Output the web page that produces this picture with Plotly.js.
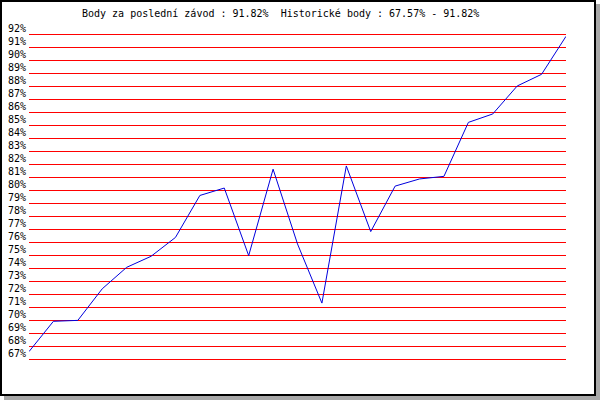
<!DOCTYPE html>
<html>
<head>
<meta charset="utf-8">
<script src="https://cdn.plot.ly/plotly-3.0.1.min.js"></script>
<style>
  html, body { margin: 0; padding: 0; background: #ffffff; }
  #wrap { position: relative; width: 600px; height: 400px; overflow: hidden; background: #ffffff; }
  #shadowR { position: absolute; left: 596px; top: 4px; width: 4px; height: 396px; background: #a8a8a8; }
  #shadowB { position: absolute; left: 4px; top: 396px; width: 596px; height: 4px; background: #a8a8a8; }
  #frame { position: absolute; left: 0; top: 0; width: 592px; height: 392px; border: 2px solid #000000; background: #ffffff; }
  #chart { position: absolute; left: 0; top: 0; width: 600px; height: 400px; }
</style>
</head>
<body>
<div id="wrap">
  <div id="shadowR"></div>
  <div id="shadowB"></div>
  <div id="frame"></div>
  <div id="chart"></div>
</div>
<script>
// Race index (one point per race)
const races = [0,1,2,3,4,5,6,7,8,9,10,11,12,13,14,15,16,17,18,19,20,21,22];
// Points in % per race
const points = [67.57, 69.9, 69.97, 72.4, 74.05, 74.9, 76.35, 79.58, 80.15, 74.95,
                81.6, 75.85, 71.3, 81.85, 76.8, 80.3, 80.85, 81.05, 85.2, 85.85,
                88.0, 88.9, 91.82];
const yMin = 67, yMax = 92;
const titleText = "Body za poslední závod : 91.82%\u00a0\u00a0Historické body : 67.57% - 91.82%";

const mono = "DejaVu Sans Mono, Liberation Mono, monospace";
const pad = 2 / 13; // 2 px of headroom so the edge grid lines are not dropped

Plotly.newPlot('chart', [{
  x: races,
  y: points,
  type: 'scatter',
  mode: 'lines',
  line: { color: '#0000dd', width: 1 },
  hoverinfo: 'skip',
  cliponaxis: false
}], {
  width: 600,
  height: 400,
  margin: { l: 29, r: 34, t: 32, b: 39 },
  paper_bgcolor: 'rgba(0,0,0,0)',
  plot_bgcolor: 'rgba(0,0,0,0)',
  showlegend: false,
  title: {
    text: titleText,
    font: { family: mono, size: 10, color: '#000000' },
    xref: 'paper', x: (82 - 29) / 537, xanchor: 'left',
    yref: 'container', y: 1 - 13 / 400, yanchor: 'middle'
  },
  xaxis: {
    range: [races[0], races[races.length - 1]],
    showgrid: false, zeroline: false, showline: false,
    showticklabels: false, ticks: ''
  },
  yaxis: {
    range: [yMin - pad, yMax + pad],
    dtick: 1, tick0: yMin,
    ticksuffix: '%',
    showgrid: true, gridcolor: '#ff0000', gridwidth: 1,
    zeroline: false, showline: false, ticks: '',
    tickfont: { family: mono, size: 10, color: '#000000' },
    ticklabelshift: -6,
    ticklabelstandoff: 2
  }
}, { staticPlot: true, displayModeBar: false });
</script>
</body>
</html>
